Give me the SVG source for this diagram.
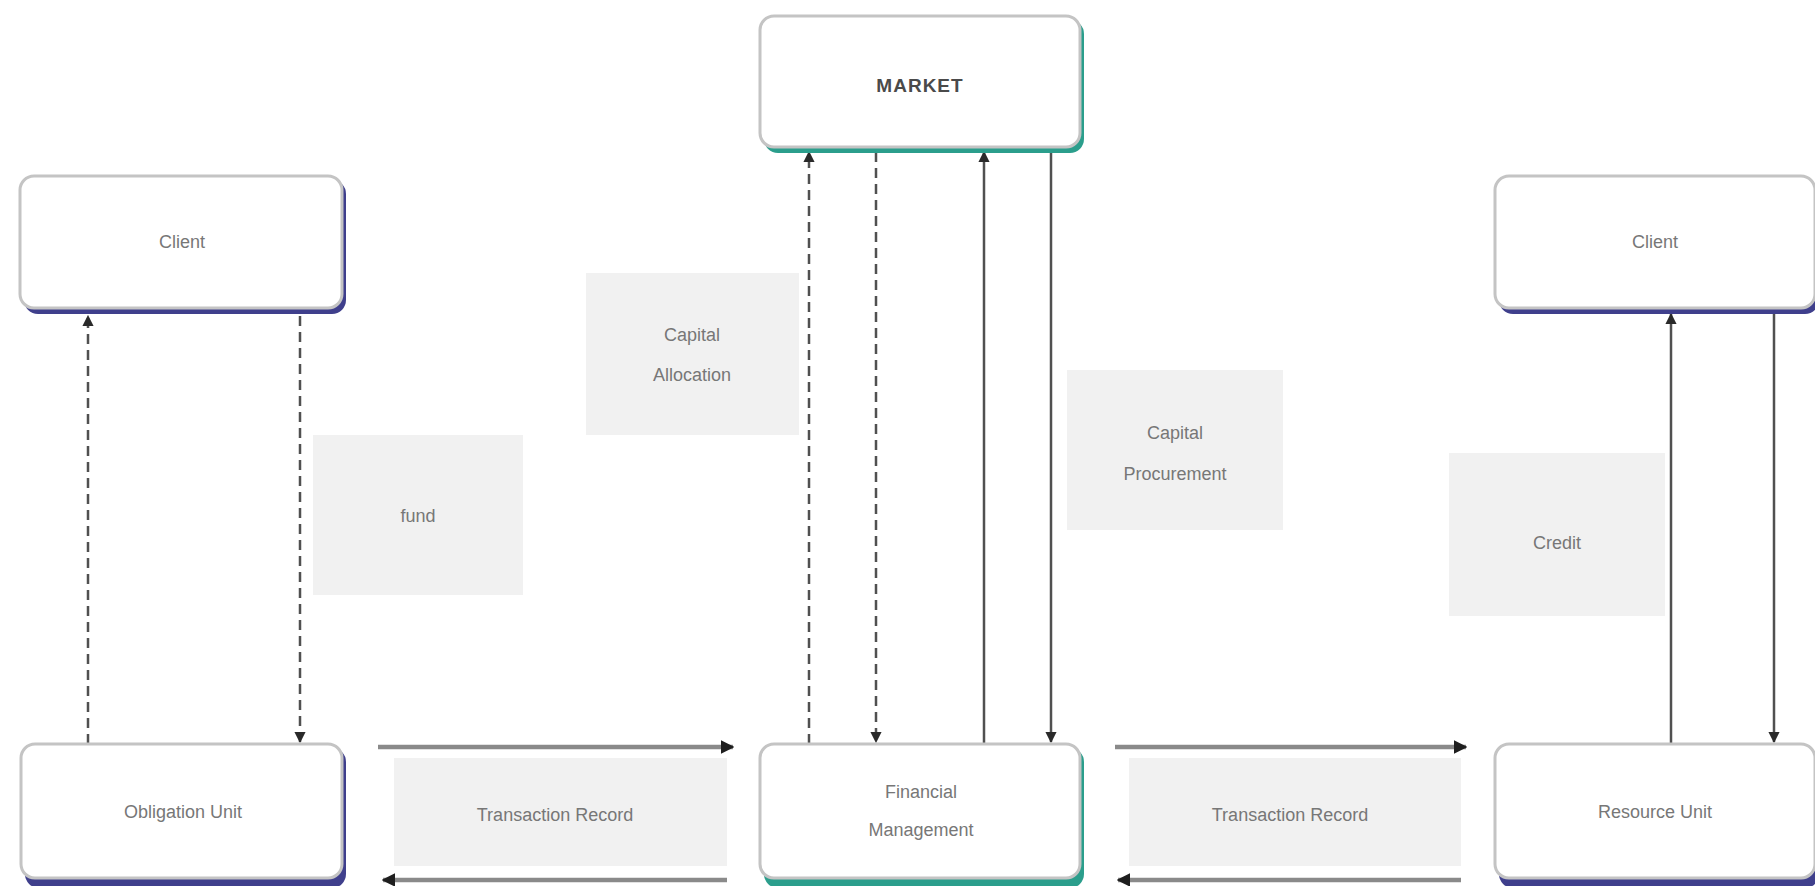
<svg xmlns="http://www.w3.org/2000/svg" width="1815" height="886" viewBox="0 0 1815 886">
<style>
.box{fill:#ffffff;stroke:#c4c4c4;stroke-width:3}
.navy{fill:#3f3f8c}
.teal{fill:#2b9e8c}
.lbl{fill:#f1f1f1}
.t{font-family:"Liberation Sans",Arial,sans-serif;font-size:18px;fill:#777777;text-anchor:middle;dominant-baseline:middle}
.tm{font-family:"Liberation Sans",Arial,sans-serif;font-size:19px;font-weight:bold;fill:#4a4a4a;text-anchor:middle;dominant-baseline:middle;letter-spacing:1px}
.v{stroke:#505050;stroke-width:2.5;fill:none}
.d{stroke-dasharray:10 6}
.h{stroke:#8a8a8a;stroke-width:4.5;fill:none}
</style>
<defs>
<marker id="ah" viewBox="0 0 10 10" refX="9" refY="5" markerWidth="4.5" markerHeight="4.5" orient="auto" markerUnits="strokeWidth">
<path d="M0,0 L10,5 L0,10 z" fill="#2a2a2a"/>
</marker>
<marker id="ah2" viewBox="0 0 10 10" refX="9" refY="5" markerWidth="3" markerHeight="3.2" orient="auto" markerUnits="strokeWidth">
<path d="M0,0 L10,5 L0,10 z" fill="#1e1e1e"/>
</marker>
</defs>
<rect width="1815" height="886" fill="#ffffff"/>

<g id="label-fund"><rect class="lbl" x="313" y="435" width="210" height="160"/><text class="t" x="418" y="517">fund</text></g>
<g id="label-capital-allocation"><rect class="lbl" x="586" y="273" width="213" height="162"/><text class="t" x="692" y="336">Capital</text><text class="t" x="692" y="376">Allocation</text></g>
<g id="label-capital-procurement"><rect class="lbl" x="1067" y="370" width="216" height="160"/><text class="t" x="1175" y="434">Capital</text><text class="t" x="1175" y="475">Procurement</text></g>
<g id="label-credit"><rect class="lbl" x="1449" y="453" width="216" height="163"/><text class="t" x="1557" y="544">Credit</text></g>
<g id="label-transaction-left"><rect class="lbl" x="394" y="758" width="333" height="108"/><text class="t" x="555" y="816">Transaction Record</text></g>
<g id="label-transaction-right"><rect class="lbl" x="1129" y="758" width="332" height="108"/><text class="t" x="1290" y="816">Transaction Record</text></g>

<g id="connectors">
<line class="v d" x1="88" y1="744" x2="88" y2="316" marker-end="url(#ah)"/>
<line class="v d" x1="300" y1="316" x2="300" y2="742" marker-end="url(#ah)"/>
<line class="v d" x1="809" y1="744" x2="809" y2="152" marker-end="url(#ah)"/>
<line class="v d" x1="876" y1="152" x2="876" y2="742" marker-end="url(#ah)"/>
<line class="v" x1="984" y1="744" x2="984" y2="152" marker-end="url(#ah)"/>
<line class="v" x1="1051" y1="152" x2="1051" y2="742" marker-end="url(#ah)"/>
<line class="v" x1="1671" y1="744" x2="1671" y2="314" marker-end="url(#ah)"/>
<line class="v" x1="1774" y1="314" x2="1774" y2="742" marker-end="url(#ah)"/>
<line class="h" x1="378" y1="747" x2="733" y2="747" marker-end="url(#ah2)"/>
<line class="h" x1="727" y1="880" x2="383" y2="880" marker-end="url(#ah2)"/>
<line class="h" x1="1115" y1="747" x2="1466" y2="747" marker-end="url(#ah2)"/>
<line class="h" x1="1461" y1="880" x2="1118" y2="880" marker-end="url(#ah2)"/>
</g>

<g id="node-market"><rect class="teal" x="764" y="20" width="320" height="133" rx="14"/><rect class="box" x="760" y="16" width="320" height="131" rx="14"/><text class="tm" x="920" y="87">MARKET</text></g>
<g id="node-client-left"><rect class="navy" x="24" y="180" width="322" height="134" rx="14"/><rect class="box" x="20" y="176" width="322" height="132" rx="14"/><text class="t" x="182" y="243">Client</text></g>
<g id="node-client-right"><rect class="navy" x="1499" y="180" width="320" height="134" rx="14"/><rect class="box" x="1495" y="176" width="320" height="132" rx="14"/><text class="t" x="1655" y="243">Client</text></g>
<g id="node-obligation"><rect class="navy" x="25" y="748" width="321" height="140" rx="14"/><rect class="box" x="21" y="744" width="321" height="134" rx="14"/><text class="t" x="183" y="813">Obligation Unit</text></g>
<g id="node-financial"><rect class="teal" x="764" y="748" width="320" height="140" rx="14"/><rect class="box" x="760" y="744" width="320" height="134" rx="14"/><text class="t" x="921" y="793">Financial</text><text class="t" x="921" y="831">Management</text></g>
<g id="node-resource"><rect class="navy" x="1499" y="748" width="320" height="140" rx="14"/><rect class="box" x="1495" y="744" width="320" height="134" rx="14"/><text class="t" x="1655" y="813">Resource Unit</text></g>
</svg>
